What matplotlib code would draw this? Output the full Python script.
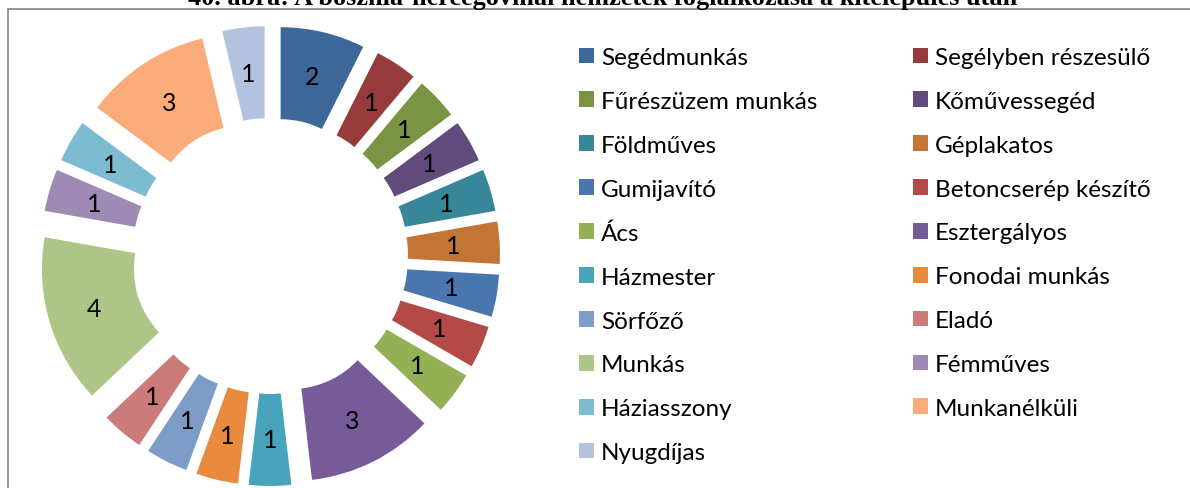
import matplotlib
matplotlib.use("Agg")
import matplotlib.pyplot as plt
from matplotlib.patches import Patch, Rectangle

# occupations after resettlement, clockwise from 12 o'clock
labels = ['Segédmunkás', 'Segélyben részesülő', 'Fűrészüzem munkás', 'Kőművessegéd',
          'Földműves', 'Géplakatos', 'Gumijavító', 'Betoncserép készítő', 'Ács',
          'Esztergályos', 'Házmester', 'Fonodai munkás', 'Sörfőző', 'Eladó',
          'Munkás', 'Fémműves', 'Háziasszony', 'Munkanélküli', 'Nyugdíjas']
counts = [2, 1, 1, 1, 1, 1, 1, 1, 1, 3, 1, 1, 1, 1, 4, 1, 1, 3, 1]
colors = ['#3d6699', '#963b3b', '#7a9444', '#614b7c', '#378699', '#c27535',
          '#4a76b0', '#b44a47', '#94b055', '#775b98', '#48a4bc', '#e88b3f',
          '#7e9cc8', '#cb7b7a', '#adc687', '#9f8ab5', '#7cbbd0', '#f9ab79',
          '#b3c3df']

title = '40. ábra: A bosznia-hercegovinai nemzetek foglalkozása a kitelepülés után'

W, H = 1190, 489
fig = plt.figure(figsize=(W / 100, H / 100), dpi=100)

# chart frame (runs past the right and bottom edge)
fig.add_artist(Rectangle((8 / W, -0.05), 1.1, 1 - 10 / H + 0.05, transform=fig.transFigure,
                         fill=False, edgecolor='#8c8c8c', linewidth=1.3))

fig.text(603 / W, 1 - 4.5 / H, title, ha='center', va='baseline', fontsize=18.9,
         family='Liberation Serif', fontweight='bold')

# doughnut
scale = 184.0          # pixels per unit radius
cx, cy = 270.0, 257.0  # centre in pixels from top-left
lim = 1.3
ax = fig.add_axes([(cx - lim * scale) / W, (H - cy - lim * scale) / H,
                   2 * lim * scale / W, 2 * lim * scale / H])
total = sum(counts)
ax.pie(counts, colors=colors, startangle=90, counterclock=False,
       explode=[0.25] * len(counts),
       wedgeprops=dict(width=0.5, edgecolor='none'),
       autopct=lambda p: f'{round(p * total / 100)}', pctdistance=0.75,
       textprops=dict(fontsize=18, family='Lato', color='black'))
ax.set_aspect('auto')
ax.set_xlim(-lim, lim)
ax.set_ylim(-lim, lim)
ax.axis('off')

# legend in two columns, row by row
fs = 17.5
handles = [Patch(facecolor=c, edgecolor='none') for c in colors]
leg_kw = dict(loc='upper left', frameon=False, ncol=1,
              handlelength=0.62, handleheight=0.62, handletextpad=0.29,
              labelspacing=0.94, borderpad=0, borderaxespad=0,
              prop=dict(family='Lato', size=fs))
fig.legend(handles[0::2], labels[0::2], bbox_to_anchor=(579 / W, 1 - 48 / H), **leg_kw)
fig.legend(handles[1::2], labels[1::2], bbox_to_anchor=(913 / W, 1 - 48 / H), **leg_kw)

fig.savefig('out.png', dpi=100)
